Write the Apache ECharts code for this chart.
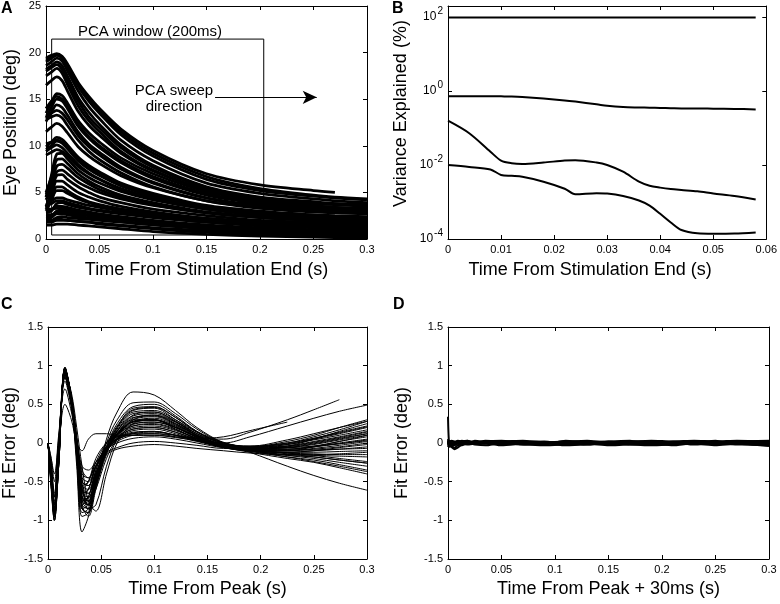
<!DOCTYPE html>
<html><head><meta charset="utf-8">
<script src="https://cdn.jsdelivr.net/npm/echarts@6/dist/echarts.min.js"></script>
<style>html,body{margin:0;padding:0;background:#fff}#c{width:780px;height:604px}</style>
</head><body><div id="c"></div>
<script>
// ---------- Panel A: eye position traces ----------
const eyeTime = [0, 0.005, 0.01, 0.015, 0.02, 0.03, 0.04, 0.05, 0.07, 0.1, 0.15, 0.2, 0.25, 0.27, 0.3];
const eyeTracesHigh = [
  [19.4, 19.7, 19.9, 19.6, 18.8, 16.8, 15.3, 14.0, 11.8, 9.5, 7.0, 5.8, 5.2, 5.0, null],
  [19.2, 19.5, 19.8, 19.5, 18.6, 16.6, 15.0, 13.7, 11.5, 9.2, 6.7, 5.4, 4.7, 4.5, 4.3],
  [19.0, 19.4, 19.7, 19.4, 18.5, 16.4, 14.8, 13.5, 11.2, 8.9, 6.4, 5.2, 4.6, 4.4, 4.2],
  [18.6, 19.0, 19.4, 19.1, 18.1, 15.9, 14.2, 12.9, 10.6, 8.4, 6.0, 4.9, 4.3, 4.1, 3.9],
  [18.2, 18.6, 19.0, 18.6, 17.5, 15.2, 13.6, 12.3, 10.1, 7.9, 5.6, 4.5, 4.0, 3.8, 3.7],
  [18.0, 18.4, 18.7, 18.2, 17.0, 14.8, 13.1, 11.9, 9.8, 7.7, 5.5, 4.4, 3.9, 3.8, 3.6],
  [17.5, 17.9, 18.3, 17.8, 16.6, 14.3, 12.7, 11.5, 9.4, 7.4, 5.3, 4.3, 3.8, 3.7, 3.5],
  [16.5, 17.0, 17.4, 17.0, 15.9, 13.7, 12.2, 11.1, 9.2, 7.3, 5.3, 4.3, 3.8, 3.7, 3.6]
];
const eyeTracesMid = [
  [14.0, 14.8, 15.3, 15.0, 14.2, 12.3, 11.0, 10.0, 8.4, 6.7, 4.9, 3.9, 3.5, 3.4, 3.2],
  [13.5, 14.6, 15.6, 15.4, 14.6, 12.7, 11.4, 10.4, 8.7, 7.0, 5.1, 4.1, 3.6, 3.4, 3.3],
  [13.0, 14.1, 15.0, 14.8, 14.0, 12.1, 10.8, 9.8, 8.2, 6.5, 4.7, 3.8, 3.3, 3.2, 3.0],
  [12.6, 13.6, 14.4, 14.1, 13.3, 11.5, 10.2, 9.3, 7.7, 6.1, 4.4, 3.5, 3.1, 3.0, 2.9],
  [13.2, 13.5, 13.8, 13.5, 12.8, 11.1, 9.9, 9.0, 7.5, 6.0, 4.4, 3.6, 3.2, 3.1, 3.0],
  [12.8, 13.1, 13.3, 13.0, 12.2, 10.6, 9.4, 8.5, 7.1, 5.6, 4.1, 3.3, 2.9, 2.8, 2.7],
  [11.5, 12.0, 12.4, 12.1, 11.4, 9.9, 8.9, 8.1, 6.8, 5.5, 4.1, 3.4, 3.0, 2.9, 2.8],
  [10.2, 10.4, 10.6, 10.4, 9.8, 8.6, 7.7, 7.0, 5.9, 4.8, 3.5, 2.9, 2.5, 2.4, 2.3],
  [9.9, 10.4, 10.9, 10.7, 10.1, 8.8, 7.9, 7.2, 6.0, 4.9, 3.6, 3.0, 2.6, 2.5, 2.4],
  [9.6, 10.0, 10.5, 10.3, 9.7, 8.4, 7.5, 6.8, 5.7, 4.6, 3.4, 2.8, 2.4, 2.3, 2.2],
  [9.4, 9.8, 10.1, 9.8, 9.2, 8.0, 7.1, 6.4, 5.3, 4.3, 3.2, 2.6, 2.3, 2.2, 2.1],
  [9.0, 9.3, 9.6, 9.4, 8.9, 7.8, 7.0, 6.4, 5.4, 4.4, 3.3, 2.7, 2.4, 2.3, 2.2]
];
const eyeTracesLow = [
  [4.5, 6.8, 9.1, 9.2, 8.6, 7.4, 6.6, 6.0, 5.1, 4.2, 3.2, 2.6, 2.3, 2.2, 2.1],
  [5.0, 6.6, 8.5, 8.6, 8.1, 7.0, 6.2, 5.6, 4.7, 3.9, 2.9, 2.4, 2.1, 2.0, 1.9],
  [4.8, 6.0, 7.8, 8.0, 7.6, 6.6, 5.9, 5.3, 4.5, 3.7, 2.8, 2.3, 2.0, 1.9, 1.8],
  [4.2, 5.5, 7.2, 7.4, 7.0, 6.1, 5.5, 5.0, 4.3, 3.6, 2.8, 2.3, 2.0, 1.95, 1.9],
  [3.5, 5.0, 6.8, 6.9, 6.4, 5.6, 5.0, 4.5, 3.9, 3.2, 2.5, 2.0, 1.8, 1.7, 1.6],
  [3.2, 4.5, 6.2, 6.2, 5.8, 5.0, 4.5, 4.1, 3.5, 2.9, 2.2, 1.8, 1.6, 1.5, 1.5],
  [3.0, 4.1, 5.6, 5.6, 5.2, 4.5, 4.0, 3.7, 3.2, 2.7, 2.1, 1.7, 1.5, 1.4, 1.4],
  [3.4, 4.2, 5.2, 5.2, 4.9, 4.3, 3.9, 3.6, 3.2, 2.8, 2.2, 1.9, 1.7, 1.65, 1.6],
  [4.0, 4.1, 4.4, 4.4, 4.2, 3.9, 3.6, 3.4, 3.0, 2.6, 2.0, 1.7, 1.4, 1.3, 1.2],
  [3.7, 3.8, 4.1, 4.1, 3.9, 3.6, 3.3, 3.1, 2.8, 2.4, 1.8, 1.5, 1.3, 1.2, 1.1],
  [2.8, 3.0, 3.8, 3.9, 3.7, 3.4, 3.2, 3.0, 2.7, 2.3, 1.8, 1.4, 1.2, 1.1, 1.0],
  [3.0, 3.1, 3.5, 3.5, 3.4, 3.1, 2.9, 2.7, 2.4, 2.0, 1.5, 1.2, 1.0, 0.9, 0.9],
  [3.2, 3.2, 3.3, 3.3, 3.2, 3.0, 2.8, 2.6, 2.3, 1.9, 1.4, 1.1, 0.9, 0.8, 0.8],
  [2.4, 2.5, 3.0, 3.1, 3.0, 2.8, 2.6, 2.5, 2.2, 1.9, 1.4, 1.1, 0.9, 0.8, 0.7],
  [2.6, 2.6, 2.7, 2.7, 2.6, 2.4, 2.3, 2.2, 1.9, 1.6, 1.1, 0.8, 0.6, 0.5, 0.4],
  [2.2, 2.3, 2.8, 2.9, 2.8, 2.6, 2.5, 2.4, 2.1, 1.8, 1.3, 1.0, 0.8, 0.7, 0.6],
  [2.0, 2.0, 2.3, 2.4, 2.3, 2.2, 2.1, 2.0, 1.8, 1.5, 1.1, 0.8, 0.6, 0.6, 0.5],
  [1.9, 1.9, 2.1, 2.1, 2.0, 1.9, 1.8, 1.6, 1.4, 1.1, 0.7, 0.5, 0.35, 0.3, 0.25],
  [1.8, 1.8, 2.0, 2.0, 2.0, 1.9, 1.8, 1.7, 1.5, 1.2, 0.9, 0.6, 0.5, 0.4, 0.3],
  [1.5, 1.5, 1.6, 1.6, 1.6, 1.5, 1.4, 1.3, 1.1, 0.8, 0.5, 0.3, 0.2, 0.15, 0.1]
];
const eyeXTicks = [0, 0.05, 0.1, 0.15, 0.2, 0.25, 0.3];
const eyeYTicks = [0, 5, 10, 15, 20, 25];
// annotation: PCA window rectangle and sweep arrow (data coords)
const pcaWindowT = [0.0053, 0.2035];
const pcaWindowDeg = [0.43, 21.45];
const sweepArrowT = [0.158, 0.253];
const sweepArrowDeg = 15.2;

// ---------- Panel B: variance explained ----------
const varTime = [0, 0.004, 0.008, 0.01, 0.012, 0.014, 0.018, 0.022, 0.024, 0.028, 0.03, 0.033, 0.036, 0.038, 0.04, 0.042, 0.044, 0.047, 0.05, 0.054, 0.058];
const varPC1 = [98, 98, 98, 98, 98, 98, 98, 98, 98, 98, 98, 98, 98, 98, 98, 98, 98, 98, 98, 98, 98];
const varPC2 = [0.73, 0.73, 0.73, 0.72, 0.71, 0.69, 0.63, 0.56, 0.52, 0.44, 0.40, 0.37, 0.36, 0.355, 0.35, 0.345, 0.34, 0.34, 0.335, 0.33, 0.32];
const varPC3 = [0.158, 0.0724, 0.0229, 0.0132, 0.0112, 0.0107, 0.0117, 0.0132, 0.0135, 0.0117, 0.0100, 0.0066, 0.00355, 0.00275, 0.00245, 0.00225, 0.00212, 0.00195, 0.0017, 0.00145, 0.00117];
const varPC4 = [0.0100, 0.0089, 0.0076, 0.0054, 0.0051, 0.0048, 0.00355, 0.00229, 0.00162, 0.00174, 0.00170, 0.00145, 0.00110, 0.00080, 0.00048, 0.00028, 0.000175, 0.000142, 0.000138, 0.000140, 0.000151];
const varXTicks = [0, 0.01, 0.02, 0.03, 0.04, 0.05, 0.06];
const varYTicks = [0.0001, 0.01, 1, 100];

// ---------- Panel C: fit error ----------
const errTime = [0, 0.003, 0.006, 0.01, 0.016, 0.022, 0.027, 0.032, 0.038, 0.045, 0.055, 0.065, 0.08, 0.1, 0.12, 0.14, 0.165, 0.19, 0.225, 0.25, 0.274, 0.3];
const errTraces = [
  [0, -0.6, -1.0, -0.3, 0.95, 0.55, -0.3, -1.15, -0.95, -0.5, 0.05, 0.4, 0.66, 0.62, 0.42, 0.2, 0.0, -0.12, -0.3, -0.42, -0.52, -0.61],
  [0, -0.3, -0.8, 0.0, 0.9, 0.5, 0.0, -0.6, -0.5, -0.2, 0.0, 0.08, 0.12, 0.12, 0.1, 0.06, 0.05, 0.14, 0.3, 0.43, 0.56, null],
  [0, -0.4, -0.95, -0.1, 0.95, 0.6, -0.05, -0.65, -0.6, -0.3, -0.05, 0.05, 0.1, 0.1, 0.08, 0.06, 0.08, 0.16, 0.27, null, null, null],
  [0, -0.5, -0.9, -0.2, 0.98, 0.6, -0.1, -0.75, -0.7, -0.35, 0.0, 0.15, 0.3, 0.3, 0.18, 0.06, 0.0, 0.08, 0.22, 0.32, 0.41, 0.49],
  [0, -0.55, -0.95, -0.25, 0.97, 0.5, -0.2, -0.9, -0.85, -0.45, 0.0, 0.3, 0.52, 0.53, 0.38, 0.18, 0.0, -0.08, -0.1, -0.05, 0.02, 0.08],
  [0, -0.5, -0.9, -0.2, 0.96, 0.55, -0.15, -0.85, -0.9, -0.5, -0.05, 0.25, 0.47, 0.5, 0.35, 0.15, -0.02, -0.1, -0.18, -0.22, -0.28, -0.35],
  [0, -0.45, -0.85, -0.15, 0.92, 0.55, -0.1, -0.8, -0.95, -0.6, -0.1, 0.2, 0.42, 0.45, 0.3, 0.12, -0.04, -0.08, -0.04, 0.05, 0.15, 0.25],
  [0, -0.4, -0.8, -0.1, 0.9, 0.5, -0.1, -0.7, -0.8, -0.55, -0.15, 0.15, 0.38, 0.4, 0.28, 0.1, -0.05, -0.1, -0.12, -0.1, -0.06, -0.02],
  [0, -0.5, -0.95, -0.3, 0.95, 0.6, 0.0, -0.6, -0.75, -0.5, -0.1, 0.12, 0.33, 0.35, 0.25, 0.1, -0.03, -0.05, 0.02, 0.1, 0.2, 0.3],
  [0, -0.35, -0.75, -0.1, 0.88, 0.55, -0.05, -0.65, -0.7, -0.45, -0.12, 0.1, 0.28, 0.3, 0.22, 0.08, -0.05, -0.12, -0.2, -0.25, -0.32, -0.4],
  [0, -0.45, -0.9, -0.2, 0.93, 0.6, 0.0, -0.55, -0.65, -0.4, -0.05, 0.12, 0.27, 0.29, 0.2, 0.07, -0.04, -0.06, -0.02, 0.05, 0.12, 0.2],
  [0, -0.3, -0.7, 0.0, 0.85, 0.5, -0.05, -0.6, -0.8, -0.6, -0.2, 0.05, 0.22, 0.25, 0.18, 0.05, -0.06, -0.1, -0.12, -0.1, -0.08, -0.05],
  [0, -0.5, -0.95, -0.3, 0.97, 0.55, -0.15, -0.8, -0.7, -0.35, -0.05, 0.08, 0.2, 0.22, 0.16, 0.06, -0.04, -0.08, -0.08, -0.04, 0.02, 0.1],
  [0, -0.4, -0.85, -0.15, 0.92, 0.5, -0.1, -0.7, -0.6, -0.3, -0.05, 0.06, 0.18, 0.2, 0.14, 0.04, -0.05, -0.1, -0.16, -0.18, -0.22, -0.26],
  [0, -0.3, -0.65, 0.05, 0.8, 0.45, 0.0, -0.45, -0.5, -0.3, -0.08, 0.04, 0.13, 0.15, 0.1, 0.03, -0.05, -0.07, -0.04, 0.02, 0.08, 0.15],
  [0, -0.45, -0.9, -0.25, 0.95, 0.6, 0.05, -0.5, -0.55, -0.3, -0.1, 0.02, 0.1, 0.12, 0.08, 0.02, -0.06, -0.11, -0.18, -0.24, -0.3, -0.37],
  [0, -0.35, -0.8, -0.1, 0.9, 0.55, 0.05, -0.4, -0.45, -0.25, -0.08, 0.0, 0.06, 0.08, 0.05, 0.0, -0.06, -0.08, -0.06, -0.02, 0.04, 0.1],
  [0, -0.3, -0.7, 0.0, 0.85, 0.5, 0.05, -0.35, -0.45, -0.3, -0.15, -0.08, -0.04, -0.02, -0.04, -0.07, -0.1, -0.13, -0.15, -0.15, -0.14, -0.12],
  [0, -0.2, -0.5, 0.1, 0.7, 0.4, 0.05, -0.3, -0.35, -0.25, -0.12, -0.06, 0.0, 0.02, 0.0, -0.03, -0.07, -0.06, 0.0, 0.06, 0.14, 0.22],
  [0, -0.5, -0.95, -0.3, 0.98, 0.55, -0.2, -0.95, -0.9, -0.55, -0.1, 0.18, 0.4, 0.42, 0.3, 0.14, 0.0, -0.04, 0.0, 0.08, 0.17, 0.28],
  [0, -0.45, -0.9, -0.2, 0.95, 0.6, -0.05, -0.75, -0.85, -0.55, -0.12, 0.12, 0.3, 0.34, 0.24, 0.1, -0.02, -0.08, -0.1, -0.08, -0.05, 0.0],
  [0, -0.4, -0.85, -0.2, 0.9, 0.5, -0.1, -0.7, -0.75, -0.4, -0.08, 0.1, 0.22, 0.24, 0.17, 0.06, -0.04, -0.1, -0.15, -0.16, -0.17, -0.18],
  [0, -0.55, -1.0, -0.3, 0.96, 0.6, 0.0, -0.6, -0.7, -0.45, -0.1, 0.05, 0.16, 0.18, 0.12, 0.04, -0.04, -0.06, -0.02, 0.04, 0.1, 0.17],
  [0, -0.2, -0.4, 0.0, 0.5, 0.3, 0.0, -0.1, 0.05, 0.12, 0.12, 0.1, 0.1, 0.1, 0.07, 0.03, -0.03, -0.06, -0.06, -0.04, -0.01, 0.03],
  [0, -0.35, -0.8, -0.1, 0.9, 0.5, -0.05, -0.55, -0.5, -0.25, 0.0, 0.12, 0.25, 0.27, 0.2, 0.08, -0.02, -0.04, 0.04, 0.12, 0.2, 0.28],
  [0, -0.45, -0.9, -0.2, 0.93, 0.55, -0.1, -0.75, -0.8, -0.5, -0.1, 0.15, 0.35, 0.38, 0.27, 0.1, -0.03, -0.09, -0.14, -0.18, -0.22, -0.26],
  [0, -0.3, -0.7, -0.05, 0.85, 0.5, 0.0, -0.5, -0.55, -0.3, -0.05, 0.05, 0.14, 0.15, 0.1, 0.03, -0.05, -0.09, -0.1, -0.07, -0.03, 0.02],
  [0, -0.5, -0.95, -0.25, 0.97, 0.6, -0.1, -0.85, -0.8, -0.45, -0.05, 0.2, 0.45, 0.47, 0.33, 0.14, 0.0, -0.06, -0.08, -0.05, 0.0, 0.05],
  [0, -0.4, -0.85, -0.2, 0.9, 0.65, 0.2, -0.3, -0.75, -0.88, -0.4, 0.0, 0.25, 0.3, 0.2, 0.08, -0.03, -0.07, -0.05, 0.0, 0.06, 0.12],
  [0, -0.45, -0.9, -0.25, 0.92, 0.6, 0.1, -0.45, -0.85, -0.8, -0.3, 0.05, 0.3, 0.36, 0.25, 0.1, -0.02, -0.08, -0.12, -0.12, -0.11, -0.1],
  [0, -0.5, -0.9, -0.25, 0.95, 0.6, -0.05, -0.7, -0.8, -0.5, -0.1, 0.12, 0.32, 0.36, 0.27, 0.12, 0.0, -0.05, -0.04, 0.01, 0.07, 0.14],
  [0, -0.4, -0.85, -0.15, 0.9, 0.55, -0.1, -0.75, -0.75, -0.45, -0.08, 0.12, 0.28, 0.32, 0.23, 0.09, -0.03, -0.09, -0.13, -0.14, -0.15, -0.15],
  [0, -0.45, -0.9, -0.2, 0.94, 0.58, -0.08, -0.7, -0.72, -0.42, -0.06, 0.1, 0.24, 0.27, 0.2, 0.08, -0.02, -0.05, -0.01, 0.06, 0.13, 0.21],
  [0, -0.5, -0.95, -0.25, 0.96, 0.55, -0.15, -0.8, -0.85, -0.5, -0.08, 0.16, 0.36, 0.4, 0.28, 0.12, -0.01, -0.07, -0.09, -0.09, -0.08, -0.07],
  [0, -0.35, -0.8, -0.1, 0.88, 0.5, -0.05, -0.6, -0.65, -0.4, -0.1, 0.07, 0.18, 0.2, 0.14, 0.05, -0.04, -0.08, -0.08, -0.05, -0.01, 0.04],
  [0, -0.55, -1.0, -0.3, 0.97, 0.58, -0.1, -0.85, -0.9, -0.55, -0.06, 0.22, 0.43, 0.46, 0.33, 0.15, 0.01, -0.07, -0.13, -0.16, -0.2, -0.24],
  [0, -0.4, -0.85, -0.2, 0.9, 0.55, 0.0, -0.55, -0.6, -0.38, -0.1, 0.04, 0.12, 0.14, 0.1, 0.03, -0.05, -0.08, -0.06, -0.01, 0.05, 0.12],
  [0, -0.45, -0.9, -0.2, 0.93, 0.6, -0.05, -0.7, -0.78, -0.5, -0.12, 0.1, 0.27, 0.3, 0.21, 0.08, -0.03, -0.09, -0.16, -0.2, -0.25, -0.3]
];
const errXTicks = [0, 0.05, 0.1, 0.15, 0.2, 0.25, 0.3];
const errYTicks = [-1.5, -1, -0.5, 0, 0.5, 1, 1.5];

// ---------- Panel D: fit error (peak + 30 ms) ----------
const err30Time = [0, 0.001, 0.003, 0.006, 0.009, 0.013, 0.018, 0.025, 0.035, 0.05, 0.07, 0.09, 0.11, 0.13, 0.15, 0.17, 0.19, 0.21, 0.23, 0.25, 0.27, 0.3];
const err30Traces = [
  [0.34, 0.0, -0.03, -0.02, 0.01, 0.0, 0.02, 0.01, -0.01, 0.02, 0.0, -0.01, 0.01, -0.02, 0.01, 0.0, -0.01, 0.01, 0.0, -0.01, 0.02, 0.01],
  [0.0, -0.02, -0.05, -0.08, -0.06, -0.02, 0.01, 0.02, 0.0, -0.01, 0.01, 0.02, -0.01, 0.0, 0.02, -0.01, 0.0, 0.01, -0.02, 0.01, -0.01, -0.03],
  [0.05, -0.05, -0.04, -0.06, -0.03, 0.0, 0.03, 0.0, 0.02, 0.01, -0.02, 0.0, 0.02, 0.01, -0.01, 0.02, 0.01, -0.01, 0.01, 0.0, 0.02, 0.03],
  [-0.02, 0.03, 0.02, 0.01, 0.03, 0.02, -0.01, 0.03, 0.01, -0.02, 0.02, 0.01, 0.0, 0.02, -0.02, 0.01, 0.02, 0.0, 0.02, 0.01, -0.02, -0.02],
  [0.02, -0.03, 0.0, -0.02, -0.01, -0.03, 0.0, -0.02, -0.03, 0.0, -0.02, -0.03, -0.02, -0.01, -0.03, -0.02, -0.03, -0.02, -0.01, -0.03, -0.01, -0.04],
  [-0.05, 0.0, 0.03, 0.02, 0.0, 0.03, 0.02, 0.01, 0.03, 0.02, 0.03, 0.01, 0.02, 0.03, 0.01, 0.02, 0.03, 0.02, 0.03, 0.02, 0.03, 0.02],
  [0.0, 0.02, -0.02, 0.0, 0.02, -0.01, -0.02, -0.01, 0.0, -0.03, -0.01, 0.0, -0.03, -0.02, 0.0, -0.02, -0.01, -0.03, 0.0, -0.02, 0.0, 0.0],
  [0.03, -0.01, 0.01, -0.03, 0.0, 0.02, 0.03, -0.01, 0.02, 0.03, 0.01, -0.02, 0.03, 0.0, 0.02, 0.03, -0.02, 0.02, 0.01, 0.03, -0.01, 0.01]
];

// ---------- chart construction ----------
const FONT = '"Liberation Sans", Arial, Helvetica, sans-serif';
const BLACK = '#000';
const grids = [
  {left: 46, top: 6, width: 321, height: 233},
  {left: 448, top: 6, width: 321, height: 233},
  {left: 46, top: 327, width: 321, height: 232},
  {left: 448, top: 327, width: 321, height: 232}
];

function baseAxis(gi, ticks, position, showLabel) {
  return {
    type: 'value', gridIndex: gi, position: position,
    min: ticks[0], max: ticks[ticks.length - 1], interval: ticks[1] - ticks[0],
    axisLine: {show: true, onZero: false, lineStyle: {color: BLACK, width: 1}},
    axisTick: {show: true, inside: true, length: 4, lineStyle: {color: BLACK, width: 1}},
    axisLabel: {show: showLabel, color: BLACK, fontSize: 11, fontFamily: FONT, margin: 5},
    splitLine: {show: false}
  };
}
function nameCfg(ax, name, gap, padding) {
  ax.name = name; ax.nameLocation = 'middle'; ax.nameGap = gap;
  ax.nameTextStyle = {fontSize: 18, color: BLACK, fontFamily: FONT};
  if (padding) ax.nameTextStyle.padding = padding;
  return ax;
}
function logAxis(gi, position, showLabel) {
  return {
    type: 'log', logBase: 10, gridIndex: gi, position: position,
    min: varYTicks[0], max: 200, interval: 2,
    axisLine: {show: true, onZero: false, lineStyle: {color: BLACK, width: 1}},
    axisTick: {show: true, inside: true, length: 4, lineStyle: {color: BLACK, width: 1}},
    axisLabel: {
      show: showLabel, margin: 5,
      formatter: function (v) {
        const e = Math.log10(v), r = Math.round(e);
        if (Math.abs(e - r) > 0.02 || r % 2 !== 0) return '';
        return '{b|10}{e|' + r + '}';
      },
      rich: {
        b: {fontSize: 12, color: BLACK, fontFamily: FONT},
        e: {fontSize: 10, color: BLACK, fontFamily: FONT, padding: [0, 0, 12, 1]}
      }
    },
    minorTick: {show: false},
    splitLine: {show: false}
  };
}

const xAxes = [
  nameCfg(baseAxis(0, eyeXTicks, 'bottom', true), 'Time From Stimulation End (s)', 22),
  baseAxis(0, eyeXTicks, 'top', false),
  nameCfg(baseAxis(1, varXTicks, 'bottom', true), 'Time From Stimulation End (s)', 22, [0, 34, 0, 0]),
  baseAxis(1, varXTicks, 'top', false),
  nameCfg(baseAxis(2, errXTicks, 'bottom', true), 'Time From Peak (s)', 21),
  baseAxis(2, errXTicks, 'top', false),
  nameCfg(baseAxis(3, errXTicks, 'bottom', true), 'Time From Peak + 30ms (s)', 21),
  baseAxis(3, errXTicks, 'top', false)
];
const yAxes = [
  nameCfg(baseAxis(0, eyeYTicks, 'left', true), 'Eye Position (deg)', 26),
  baseAxis(0, eyeYTicks, 'right', false),
  nameCfg(logAxis(1, 'left', true), 'Variance Explained (%)', 38, [0, 0, 0, 18]),
  logAxis(1, 'right', false),
  nameCfg(baseAxis(2, errYTicks, 'left', true), 'Fit Error (deg)', 29),
  baseAxis(2, errYTicks, 'right', false),
  nameCfg(baseAxis(3, errYTicks, 'left', true), 'Fit Error (deg)', 37),
  baseAxis(3, errYTicks, 'right', false)
];

function lineSeries(gi, xs, ys, width, smooth) {
  return {
    type: 'line', xAxisIndex: 2 * gi, yAxisIndex: 2 * gi,
    data: xs.map(function (x, i) { return [x, ys[i]]; }),
    showSymbol: false, symbol: 'none', smooth: smooth,
    lineStyle: {color: BLACK, width: width}, silent: true, animation: false
  };
}

const series = [];
eyeTracesHigh.concat(eyeTracesMid, eyeTracesLow).forEach(function (tr) {
  series.push(lineSeries(0, eyeTime, tr, 2.8, 0.3));
});
// annotation carrier for panel A
series[0].markArea = {
  silent: true,
  itemStyle: {color: 'rgba(0,0,0,0)', borderColor: BLACK, borderWidth: 1},
  data: [[{coord: [pcaWindowT[0], pcaWindowDeg[0]]}, {coord: [pcaWindowT[1], pcaWindowDeg[1]]}]]
};
series[0].markLine = {
  silent: true, symbol: ['none', 'arrow'], symbolSize: [10, 14],
  label: {show: false},
  lineStyle: {type: 'solid', color: BLACK, width: 1},
  data: [[{coord: [sweepArrowT[0], sweepArrowDeg]}, {coord: [sweepArrowT[1], sweepArrowDeg]}]]
};
[varPC1, varPC2, varPC3, varPC4].forEach(function (tr) {
  series.push(lineSeries(1, varTime, tr, 2, 0.3));
});
errTraces.forEach(function (tr) { series.push(lineSeries(2, errTime, tr, 1, 0.35)); });
err30Traces.forEach(function (tr) { series.push(lineSeries(3, err30Time, tr, 2, 0.2)); });

function label(txt, x, y, size, weight, align, vAlign, lh) {
  return {type: 'text', x: x, y: y, z: 100, silent: true,
    style: {text: txt, fill: BLACK, fontSize: size, fontWeight: weight || 'normal', fontFamily: FONT,
      align: align || 'left', verticalAlign: vAlign || 'top', lineHeight: lh || size}};
}

const chart = echarts.init(document.getElementById('c'), null, {renderer: 'canvas'});
chart.setOption({
  animation: false,
  backgroundColor: '#fff',
  grid: grids,
  xAxis: xAxes,
  yAxis: yAxes,
  series: series,
  graphic: [
    label('A', 1, 1, 16, 'bold'),
    label('B', 392, 1, 16, 'bold'),
    label('C', 1, 297, 16, 'bold'),
    label('D', 393, 297, 16, 'bold'),
    label('PCA window (200ms)', 150, 32, 15, 'normal', 'center', 'middle'),
    label('PCA sweep\ndirection', 174, 99, 15, 'normal', 'center', 'middle', 16)
  ]
});
</script>
</body></html>
